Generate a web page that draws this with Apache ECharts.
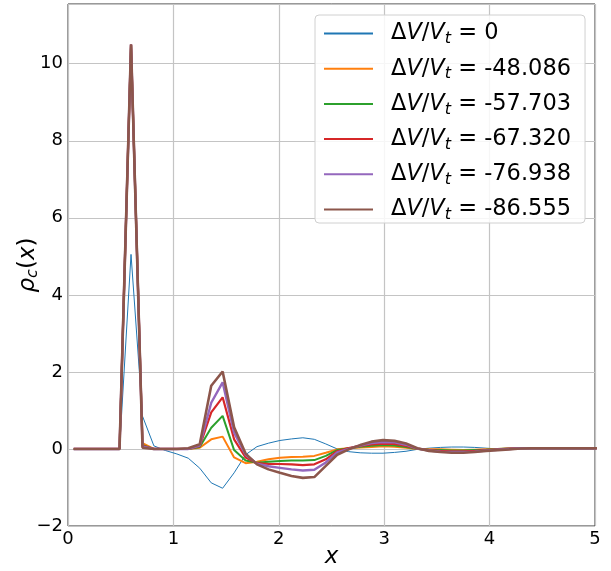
<!DOCTYPE html>
<html>
<head>
<meta charset="utf-8">
<script src="https://cdn.jsdelivr.net/npm/echarts@6/dist/echarts.min.js"></script>
<style>html,body{margin:0;padding:0;background:#fff;}#c{width:611px;height:571px;}</style>
</head>
<body>
<div id="c"></div>
<script>
const xs = [0.054,0.163,0.272,0.380,0.489,0.598,0.707,0.815,0.924,1.033,1.141,1.250,1.359,1.467,1.576,1.685,1.793,1.902,2.011,2.120,2.228,2.337,2.446,2.554,2.663,2.772,2.880,2.989,3.098,3.207,3.315,3.424,3.533,3.641,3.750,3.859,3.967,4.076,4.185,4.293,4.402,4.511,4.620,4.728,4.837,4.946,5.054];
const labels = ['0','-48.086','-57.703','-67.320','-76.938','-86.555'];
const rho0   = [0,0,0,0,0,5.05,0.85,0.08,-0.04,-0.13,-0.24,-0.5,-0.88,-1.02,-0.62,-0.15,0.06,0.15,0.22,0.26,0.29,0.25,0.13,0.0,-0.07,-0.1,-0.11,-0.11,-0.09,-0.06,-0.01,0.02,0.04,0.05,0.05,0.04,0.02,0.0,0,0,0,0,0,0,0,0,0];
const rho48  = [0,0,0,0,0,10.5,0.15,0,0,0,0,0.03,0.25,0.32,-0.22,-0.37,-0.33,-0.27,-0.23,-0.21,-0.2,-0.18,-0.1,-0.01,0.02,0.04,0.05,0.07,0.06,0.03,0.0,-0.01,-0.01,-0.02,-0.03,-0.02,-0.01,0,0.01,0.02,0.02,0.02,0.02,0.02,0.02,0.02,0.02];
const rho57  = [0,0,0,0,0,10.5,0.1,0,0,0,0,0.05,0.55,0.86,-0.03,-0.3,-0.36,-0.33,-0.31,-0.3,-0.3,-0.29,-0.18,-0.03,0.02,0.06,0.08,0.1,0.09,0.05,0.0,-0.02,-0.03,-0.04,-0.04,-0.03,-0.02,0,0.01,0.02,0.02,0.02,0.02,0.02,0.02,0.02,0.02];
const rho67  = [0,0,0,0,0,10.5,0.08,0,0,0,0,0.07,0.95,1.34,0.25,-0.22,-0.37,-0.39,-0.39,-0.4,-0.42,-0.4,-0.27,-0.06,0.02,0.08,0.12,0.14,0.13,0.08,0.01,-0.03,-0.05,-0.06,-0.06,-0.05,-0.03,-0.01,0.01,0.02,0.02,0.02,0.02,0.02,0.02,0.02,0.02];
const rho76  = [0,0,0,0,0,10.5,0.06,0,0,0,0,0.09,1.2,1.73,0.42,-0.15,-0.38,-0.45,-0.49,-0.53,-0.56,-0.54,-0.35,-0.09,0.0,0.09,0.15,0.18,0.17,0.11,0.01,-0.04,-0.07,-0.08,-0.08,-0.07,-0.04,-0.02,0.0,0.02,0.02,0.02,0.02,0.02,0.02,0.02,0.02];
const rho86  = [0,0,0,0,0,10.5,0.03,0,0,0,0.02,0.12,1.64,2.01,0.56,-0.12,-0.4,-0.53,-0.62,-0.7,-0.75,-0.73,-0.44,-0.15,-0.01,0.1,0.19,0.23,0.21,0.14,0.02,-0.05,-0.08,-0.1,-0.1,-0.08,-0.05,-0.03,-0.01,0.01,0.02,0.02,0.02,0.02,0.02,0.02,0.02];
const yTicks = [-2,0,2,4,6,8,10];
const xTicks = [0,1,2,3,4,5];

const allSeries = [rho0, rho48, rho57, rho67, rho76, rho86];
const colors = ['#1f77b4','#ff7f0e','#2ca02c','#d62728','#9467bd','#8c564b'];
const widths = [1, 2, 2, 2.2, 2.4, 2.6];
const F = 'DejaVu Sans';

const chart = echarts.init(document.getElementById('c'), null, {renderer:'canvas'});
const names = labels.map(l => 'dv' + l);
const series = allSeries.map((arr, k) => ({
  name: names[k], type: 'line', symbol: 'none', animation: false,
  data: arr.map((v, i) => [xs[i], v]),
  lineStyle: {color: colors[k], width: widths[k]},
  itemStyle: {color: colors[k]},
  z: 2 + k
}));

const fmtMinus = v => (v < 0 ? '\u2212' + Math.abs(v) : String(v));

chart.setOption({
  animation: false,
  backgroundColor: '#fff',
  grid: {left: 68, right: 16, top: 4, bottom: 45, show: true, borderColor: '#333', borderWidth: 1, backgroundColor: 'transparent', containLabel: false, outerBoundsMode: 'none'},
  xAxis: {
    type: 'value', min: 0, max: 5, interval: 1,
    axisLine: {show: false}, axisTick: {show: false},
    splitLine: {show: true, lineStyle: {color: '#c4c4c4', width: 1.2}},
    axisLabel: {fontFamily: F, fontSize: 18, color: '#000', margin: 4, formatter: v => xTicks.includes(v) ? fmtMinus(v) : ''},
    name: 'x', nameLocation: 'middle', nameGap: 20, nameMoveOverlap: false,
    nameTextStyle: {fontFamily: F, fontSize: 23, fontStyle: 'italic', color: '#000'}
  },
  yAxis: {
    type: 'value', min: -2, max: 11.55, interval: 2,
    axisLine: {show: false}, axisTick: {show: false},
    splitLine: {show: true, lineStyle: {color: '#c4c4c4', width: 1.2}},
    axisLabel: {fontFamily: F, fontSize: 18, color: '#000', margin: 5, showMaxLabel: false, formatter: v => yTicks.includes(v) ? fmtMinus(v) : ''},
    name: '{r|\u03c1}{s|c}{n|(}{i|x}{n|)}', nameLocation: 'middle', nameGap: 26, nameRotate: 90, nameMoveOverlap: false,
    nameTextStyle: {
      rich: {
        r: {fontFamily: F, fontSize: 23, fontStyle: 'italic', color: '#000', lineHeight: 28},
        s: {fontFamily: F, fontSize: 16, fontStyle: 'italic', color: '#000', lineHeight: 16, padding: [9,0,0,0]},
        n: {fontFamily: F, fontSize: 23, color: '#000', lineHeight: 28},
        i: {fontFamily: F, fontSize: 23, fontStyle: 'italic', color: '#000', lineHeight: 28}
      }
    }
  },
  legend: {
    orient: 'vertical', left: 315, top: 15,
    data: names,
    itemWidth: 49, itemHeight: 1, itemGap: 8.2,
    padding: [5, 14, 0, 8],
    backgroundColor: 'rgba(255,255,255,0.85)', borderColor: '#d0d0d0', borderWidth: 1, borderRadius: 4,
    formatter: name => {
      const val = name.slice(2);
      return '{w|}{u|\u0394}{i|V}{u|/}{i|V}{s|t}{u| = ' + val + '}';
    },
    textStyle: {
      rich: {
        w: {width: 13, lineHeight: 26},
        u: {fontFamily: F, fontSize: 22.5, color: '#000', lineHeight: 26},
        i: {fontFamily: F, fontSize: 22.5, fontStyle: 'italic', color: '#000', lineHeight: 26},
        s: {fontFamily: F, fontSize: 16, fontStyle: 'italic', color: '#000', lineHeight: 15, padding: [11,0,0,0]}
      }
    }
  },
  series: series
});
</script>
</body>
</html>
